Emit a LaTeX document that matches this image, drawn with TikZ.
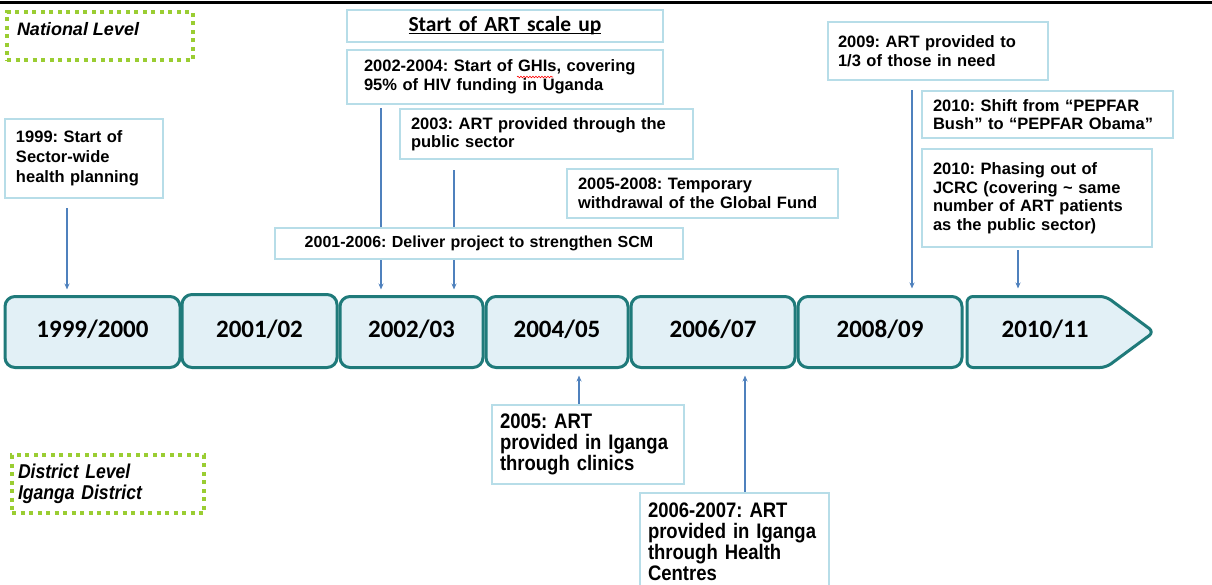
\documentclass[tikz,border=0pt]{standalone}
\usepackage{fontspec}
\setmainfont{Liberation Sans}
\newfontfamily\calfont{Carlito}
\newfontfamily\narrowfont[FakeStretch=0.88]{Liberation Sans}
\usetikzlibrary{arrows.meta,calc,shapes.symbols,decorations.pathmorphing}
\pgfdeclarelayer{bg}
\pgfsetlayers{bg,main}
\definecolor{boxblue}{RGB}{183,221,232}
\definecolor{segfill}{RGB}{226,240,246}
\definecolor{segline}{RGB}{31,122,122}
\definecolor{arrblue}{RGB}{79,129,189}
\definecolor{lvlgreen}{RGB}{154,205,50}
\newcommand\myul[1]{\setbox0\hbox{#1}\rlap{\rule[-2.5pt]{\wd0}{1.4pt}}\box0}
\frenchspacing
\begin{document}
\frenchspacing
\begin{tikzpicture}[x=1pt,y=-1pt,
  every node/.style={outer sep=0pt},
  tbox/.style={draw=boxblue, line width=2.5pt, fill=white, align=left,
    inner xsep=11pt, inner ysep=2pt, anchor=north west,
    font=\fontsize{16.5}{18.5}\selectfont\bfseries},
  narrowbox/.style={tbox, font=\narrowfont\fontsize{21}{21}\selectfont\bfseries},
  seg/.style={draw=segline, line width=3pt, fill=segfill, rounded corners=10pt,
    minimum height=71pt, inner sep=0pt},
  seglbl/.style={inner sep=0pt, font=\calfont\bfseries\fontsize{25}{25}\selectfont},
  lvl/.style={draw=lvlgreen, line width=4pt, dash pattern=on 4pt off 4.5pt, anchor=north west},
  arr/.style={draw=arrblue, line width=1.1pt, -{Stealth[length=6pt,width=5pt]}}
]
\useasboundingbox (0,0) rectangle (1212,584);
\draw[line width=3pt] (0,2) -- (1212,2);

% level boxes
\node[lvl, minimum width=186pt, minimum height=48pt] (natl) at (7,12) {};
\node[anchor=west, inner sep=0pt, font=\fontsize{18}{18}\selectfont\bfseries\itshape] (natllbl) at (17,29) {National Level};
\node[lvl, minimum height=58pt, text width=180pt, inner xsep=6pt, align=left,
  font=\narrowfont\fontsize{20}{21}\selectfont\bfseries\itshape] (dist) at (12,455) {District Level\\Iganga District};

% timeline
\node[seg, minimum width=175pt] (t1) at (92.5,332) {};
\node[seg, minimum width=155pt, minimum height=73pt] (t2) at (259.5,331) {};
\node[seg, minimum width=143pt] (t3) at (411.5,332) {};
\node[seg, minimum width=142pt] (t4) at (557,332) {};
\node[seg, minimum width=164pt] (t5) at (713,332) {};
\node[seg, minimum width=164pt] (t6) at (880,332) {};
\node[seg, shape=signal, signal to=east, signal pointer angle=73, rounded corners=6pt, minimum width=187pt] (t7) at (1036.5,332) {};
\node[seglbl] (t1l) at (t1.center |- 0,329) {1999/2000};
\node[seglbl] (t2l) at (t2.center |- 0,329) {2001/02};
\node[seglbl] (t3l) at (t3.center |- 0,329) {2002/03};
\node[seglbl] (t4l) at (t4.center |- 0,329) {2004/05};
\node[seglbl] (t5l) at (t5.center |- 0,329) {2006/07};
\node[seglbl] (t6l) at (t6.center |- 0,329) {2008/09};
\node[seglbl] (t7l) at (1045,329) {2010/11};

% text boxes
\node[tbox, text width=136pt, minimum height=79pt, font=\fontsize{16.5}{20}\selectfont\bfseries] (n1999) at (5,119) {1999: Start of\\Sector-wide\\health planning};
\node[tbox, text width=294pt, minimum height=32pt, align=center, font=\calfont\bfseries\fontsize{21.5}{22}\selectfont] (nscale) at (347,10) {\myul{Start of ART scale up}};
\node[tbox, text width=282pt, inner xsep=17pt, minimum height=54pt] (n0204) at (347,50) {2002-2004: Start of GHIs, covering\\95\% of HIV funding in Uganda};
\node[tbox, text width=271pt, minimum height=50pt] (n2003) at (400,109) {2003: ART provided through the\\public sector};
\node[tbox, text width=249pt, minimum height=49pt] (n0508) at (567,169) {2005-2008: Temporary\\withdrawal of the Global Fund};
\node[tbox, text width=386pt, minimum height=31pt, align=center, font=\fontsize{16}{18}\selectfont\bfseries] (n0106) at (275,228) {2001-2006: Deliver project to strengthen SCM};
\node[tbox, text width=200pt, inner xsep=10pt, minimum height=58pt] (n2009) at (828,22) {2009: ART provided to\\1/3 of those in need};
\node[tbox, text width=229pt, minimum height=47pt] (n2010a) at (922,91) {2010: Shift from “PEPFAR\\Bush” to “PEPFAR Obama”};
\node[tbox, text width=208pt, minimum height=98pt] (n2010b) at (922,149) {2010: Phasing out of\\JCRC (covering \textasciitilde{} same\\number of ART patients\\as the public sector)};
\node[narrowbox, text width=176pt, inner xsep=8pt, minimum height=79pt] (n2005) at (492,405) {2005: ART\\provided in Iganga\\through clinics};
\node[narrowbox, text width=173pt, inner xsep=8pt, minimum height=97pt] (n0607) at (640,493) {2006-2007: ART\\provided in Iganga\\through Health\\Centres};

\draw[red, line width=0.6pt, decorate, decoration={snake, amplitude=0.8pt, segment length=3pt}] (517,77) -- (553,77);

% connectors
\begin{pgfonlayer}{bg}
\coordinate (a1s) at ($(n1999.south)+(-17,10)$);
\draw[arr, shorten >=7pt] (a1s) -- (a1s |- t1.north);
\coordinate (a2s) at ($(n0204.south)+(-124,4)$);
\draw[arr, shorten >=7pt] (a2s) -- (a2s |- t3.north);
\coordinate (a3s) at ($(n2003.south)+(-92.5,11)$);
\draw[arr, shorten >=7pt] (a3s) -- (a3s |- t3.north);
\coordinate (a4s) at ($(n2009.south)+(-26,10)$);
\draw[arr, shorten >=8pt] (a4s) -- (a4s |- t6.north);
\coordinate (a5s) at ($(n2010b.south)+(-19,3)$);
\draw[arr, shorten >=8pt] (a5s) -- (a5s |- t7.north);
\coordinate (a6s) at ($(n2005.north)+(-9,0)$);
\draw[arr, shorten >=8pt] (a6s) -- (a6s |- t4.south);
\coordinate (a7s) at ($(n0607.north)+(10.5,0)$);
\draw[arr, shorten >=8pt] (a7s) -- (a7s |- t5.south);
\end{pgfonlayer}
\end{tikzpicture}
\end{document}
